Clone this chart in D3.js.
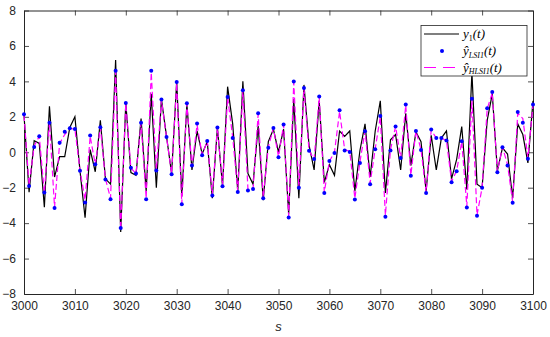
<!DOCTYPE html>
<html><head><meta charset="utf-8">
<script src="https://cdn.jsdelivr.net/npm/d3@7"></script>
<style>body{margin:0;background:#fff}svg{display:block}</style>
</head><body>
<script>
const sStart = 3000, sEnd = 3100;
const xTicks = [3000,3010,3020,3030,3040,3050,3060,3070,3080,3090,3100];
const yTicks = [-8,-6,-4,-2,0,2,4,6,8];
const yActual = [2.1,-2.25,0.65,0.5,-3.1,2.6,-1.4,-0.25,-0.25,1.4,
 2.0,-1.05,-3.7,0.15,-1.1,1.8,-1.5,-1.8,5.2,-4.5,
 2.8,-1.15,-1.3,1.9,-2.2,3.3,-2.0,3.0,0.9,-1.2,
 4.0,-2.5,2.7,-1.0,1.2,-0.1,0.6,-2.6,1.4,-1.9,
 3.7,1.6,-2.2,4.0,-1.2,-1.8,1.5,-2.7,0.6,1.3,
 0.0,1.3,-3.5,3.0,-2.6,3.8,0.4,-1.0,2.9,-1.7,
 -0.7,-1.3,1.2,0.9,1.2,-2.2,0.1,1.6,-1.4,1.2,
 2.9,-2.3,0.7,1.0,-1.0,2.2,-0.75,1.15,0.6,-2.2,
 0.95,-1.0,0.8,1.2,-1.5,-0.4,1.45,-2.1,4.5,-1.8,
 -2.0,1.8,3.3,-1.05,0.25,-0.1,-2.6,1.6,1.0,-0.6,2.9];
const yLSI = [2.14,-1.9,0.3,0.9,-2.27,1.67,-3.15,0.53,1.15,1.35,
 1.31,-1.05,-2.84,0.94,-0.68,1.41,-1.54,-2.65,4.6,-4.28,
 2.78,-0.88,-1.2,1.67,-2.65,4.6,-1.03,2.98,0.86,-1.24,
 3.96,-2.93,2.76,-0.75,1.62,-0.17,0.64,-2.44,1.39,-1.92,
 3.12,0.8,-2.25,3.5,-2.16,-2.08,2.2,-2.6,0.25,1.37,
 -0.28,1.56,-3.68,4.0,-2.0,3.62,0.08,-0.38,3.15,-2.3,
 -0.5,-0.04,2.37,0.1,0.02,-2.67,-0.6,1.18,-1.8,0.17,
 2.05,-3.64,0.1,1.46,-0.32,2.69,-1.33,1.2,0.13,-2.3,
 1.28,0.8,0.8,0.66,-1.7,-1.07,0.62,-3.12,3.02,-3.59,
 -2.0,2.48,3.4,-1.13,0.28,-0.75,-2.85,2.27,1.67,-0.36,2.69];
const yHLSI = [2.1,-1.85,0.35,0.9,-2.3,1.7,-3.1,0.5,1.0,1.35,
 1.3,-1.0,-2.7,0.9,-0.7,1.4,-1.5,-2.6,4.55,-4.35,
 2.75,-0.9,-1.2,1.65,-2.6,4.5,-1.0,2.95,0.85,-1.2,
 3.9,-2.9,2.75,-0.8,1.55,-0.15,0.65,-2.4,1.4,-1.9,
 3.1,0.85,-2.2,3.45,-2.1,-2.05,2.15,-2.55,0.3,1.35,
 -0.25,1.55,-3.6,3.95,-2.0,3.6,0.1,-0.4,3.1,-2.25,
 -0.5,0.0,2.3,0.15,0.05,-2.6,-0.55,1.2,-1.75,0.2,
 2.0,-3.55,0.15,1.45,-0.3,2.65,-1.3,1.2,0.15,-2.25,
 1.25,0.8,0.8,0.65,-1.65,-1.05,0.6,-3.05,3.0,-3.55,
 -2.0,2.45,3.35,-1.1,0.3,-0.7,-2.8,2.2,1.9,-0.3,2.65];

const W = 550, H = 337;
const m = {l:24, r:533, t:10.5, b:294};
const svg = d3.select("body").append("svg").attr("width",W).attr("height",H);
const x = d3.scaleLinear().domain([sStart,sEnd]).range([m.l,m.r]);
const y = d3.scaleLinear().domain([-8,8]).range([m.b,m.t]);
const sVals = d3.range(sStart, sEnd+1);
const axisCol = "#262626";
const tickFont = "'Liberation Sans', Arial, sans-serif";

const gx = svg.append("g").attr("transform",`translate(0,${m.b})`)
  .call(d3.axisBottom(x).tickValues(xTicks).tickFormat(d3.format("d")).tickSizeInner(-5).tickSizeOuter(0).tickPadding(7));
const gxt = svg.append("g").attr("transform",`translate(0,${m.t})`)
  .call(d3.axisTop(x).tickValues(xTicks).tickFormat("").tickSizeInner(-5).tickSizeOuter(0));
const gy = svg.append("g").attr("transform",`translate(${m.l},0)`)
  .call(d3.axisLeft(y).tickValues(yTicks).tickFormat(d3.format("d")).tickSizeInner(-5).tickSizeOuter(0).tickPadding(8));
const gyr = svg.append("g").attr("transform",`translate(${m.r},0)`)
  .call(d3.axisRight(y).tickValues(yTicks).tickFormat("").tickSizeInner(-5).tickSizeOuter(0));
[gx,gxt,gy,gyr].forEach(g=>{
  g.selectAll("path.domain").attr("stroke",axisCol).attr("stroke-width",1);
  g.selectAll(".tick line").attr("stroke",axisCol).attr("stroke-width",0.8);
  g.selectAll("text").attr("fill",axisCol).style("font-family",tickFont).style("font-size","12px");
});

svg.append("text").attr("x",(m.l+m.r)/2).attr("y",331).attr("text-anchor","middle")
  .style("font-family",tickFont).style("font-style","italic").style("font-size","13px").attr("fill",axisCol).text("s");

const lineA = d3.line().x((d,i)=>x(sVals[i])).y(d=>y(d));
svg.append("path").datum(yActual).attr("d",lineA).attr("fill","none").attr("stroke","#000").attr("stroke-width",1.2);
svg.append("path").datum(yHLSI).attr("d",lineA).attr("fill","none").attr("stroke","#ff00ff").attr("stroke-width",1.2).attr("stroke-dasharray","6,3");
svg.append("g").selectAll("circle").data(yLSI).join("circle")
  .attr("cx",(d,i)=>x(sVals[i])).attr("cy",d=>y(d)).attr("r",2).attr("fill","#0000ff");

const lg = svg.append("g");
lg.append("rect").attr("x",421).attr("y",25.5).attr("width",106).attr("height",50.5)
  .attr("fill","#fff").attr("stroke",axisCol).attr("stroke-width",0.8);
const serif = "'Liberation Serif','DejaVu Serif',serif";
const rows = [
  {yy:34, main:"y", sub:"1", kind:"line", subItalic:false},
  {yy:51, main:"ŷ", sub:"LSI1", kind:"dot", subItalic:true},
  {yy:67.5, main:"ŷ", sub:"HLSI1", kind:"dash", subItalic:true}
];
rows.forEach(r=>{
  if(r.kind==="line") lg.append("line").attr("x1",424).attr("x2",459).attr("y1",r.yy).attr("y2",r.yy).attr("stroke","#000").attr("stroke-width",1.2);
  if(r.kind==="dot") lg.append("circle").attr("cx",442).attr("cy",r.yy).attr("r",2).attr("fill","#0000ff");
  if(r.kind==="dash") lg.append("line").attr("x1",424).attr("x2",459).attr("y1",r.yy).attr("y2",r.yy).attr("stroke","#ff00ff").attr("stroke-width",1.2).attr("stroke-dasharray","12,7");
  const t = lg.append("text").attr("x",463).attr("y",r.yy+4).style("font-family",serif).style("font-style","italic").style("font-size","13px").attr("fill","#000");
  t.append("tspan").text(r.main);
  t.append("tspan").attr("dy",2.5).style("font-size","8px").style("font-style",r.subItalic?"italic":"normal").text(r.sub);
  t.append("tspan").attr("dy",-2.5).text("(t)");
});
</script>
</body></html>
